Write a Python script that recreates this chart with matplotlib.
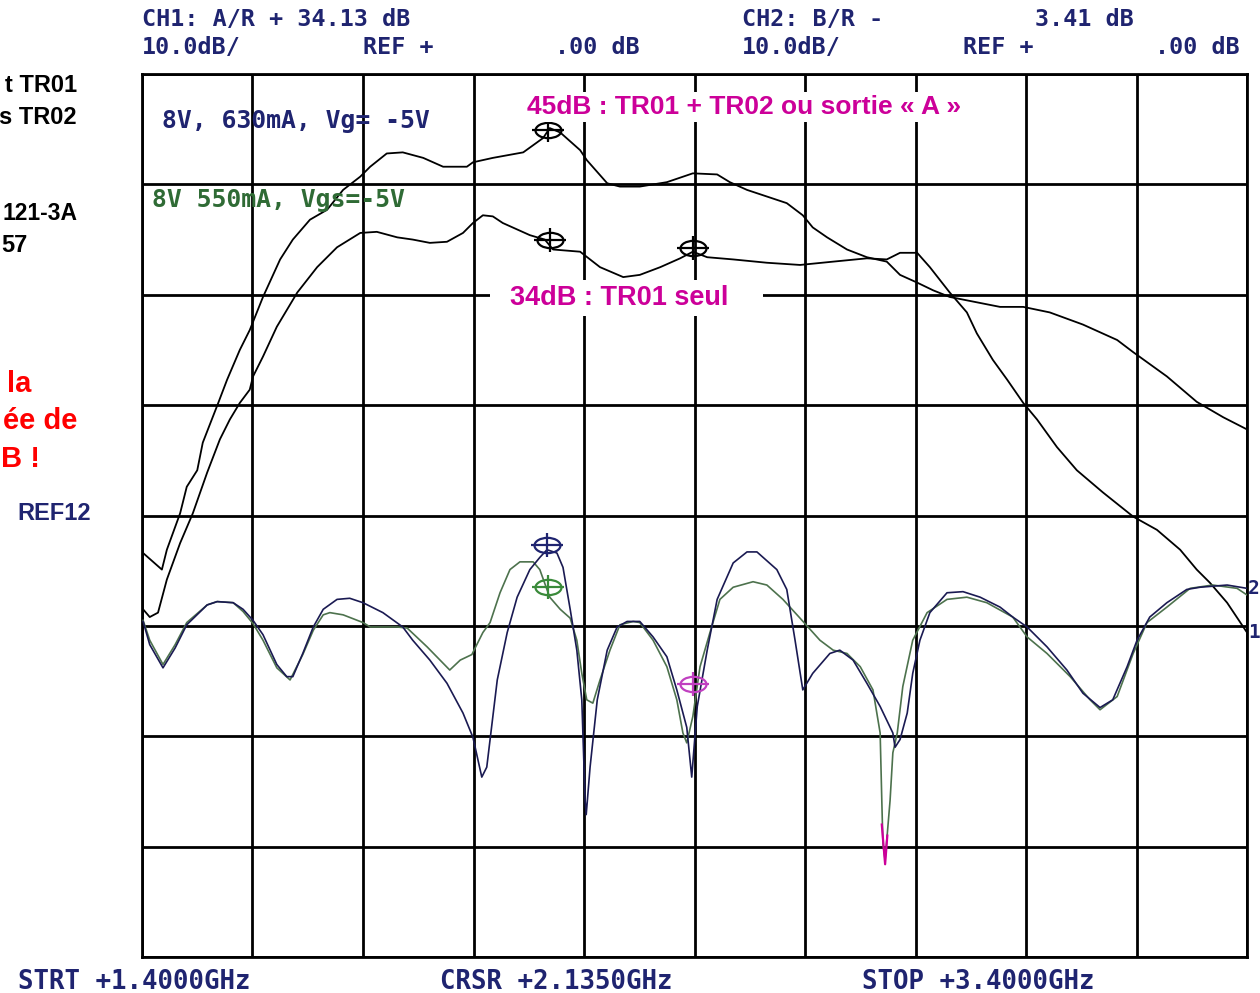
import numpy as np
import matplotlib
matplotlib.use("Agg")
import matplotlib.pyplot as plt
from matplotlib.markers import MarkerStyle
from matplotlib.transforms import Affine2D
from matplotlib.patches import Rectangle

W, H = 1260, 993

# ---- traces (frequency GHz, level dB) ----
# gain TR01 + TR02 (sortie A)
gain45_f = [1.402, 1.436, 1.445, 1.469, 1.481, 1.500, 1.510, 1.538, 1.554, 1.577,
            1.595, 1.619, 1.650, 1.673, 1.704, 1.735, 1.764, 1.795, 1.813, 1.843,
            1.872, 1.909, 1.945, 1.988, 1.999, 2.035, 2.090, 2.126, 2.138, 2.157,
            2.193, 2.205, 2.242, 2.265, 2.301, 2.350, 2.397, 2.441, 2.464, 2.495,
            2.531, 2.567, 2.596, 2.614, 2.640, 2.676, 2.712, 2.748, 2.772, 2.803,
            2.832, 2.862, 2.953, 2.995, 3.043, 3.103, 3.165, 3.194, 3.255, 3.309,
            3.357, 3.400]
gain45_db = [6.6, 5.1, 6.9, 10.2, 12.6, 14.1, 16.6, 20.2, 22.3, 25.0,
             26.8, 29.8, 33.2, 35.0, 36.8, 37.7, 39.5, 40.7, 41.6, 42.8,
             42.9, 42.4, 41.6, 41.6, 42.0, 42.4, 42.9, 44.2, 45.1, 44.7,
             43.1, 42.2, 40.1, 39.8, 39.8, 40.2, 41.0, 40.9, 40.2, 39.5,
             38.9, 38.3, 37.2, 36.1, 35.2, 34.1, 33.4, 33.0, 31.8, 31.1,
             30.4, 29.8, 28.9, 28.9, 28.4, 27.3, 25.9, 24.8, 22.6, 20.3,
             18.9, 17.8]

# gain TR01 seul
gain34_f = [1.402, 1.414, 1.429, 1.445, 1.469, 1.492, 1.518, 1.541, 1.559, 1.577,
            1.595, 1.601, 1.619, 1.644, 1.681, 1.717, 1.753, 1.795, 1.825, 1.862,
            1.890, 1.921, 1.952, 1.981, 1.999, 2.017, 2.035, 2.053, 2.102, 2.129,
            2.144, 2.193, 2.229, 2.271, 2.301, 2.338, 2.374, 2.397, 2.423, 2.470,
            2.531, 2.591, 2.651, 2.712, 2.748, 2.772, 2.803, 2.826, 2.862, 2.893,
            2.911, 2.940, 2.966, 2.995, 3.020, 3.056, 3.092, 3.139, 3.194, 3.237,
            3.279, 3.309, 3.333, 3.364, 3.400]
gain34_db = [1.5, 0.8, 1.2, 4.2, 7.5, 10.2, 13.9, 16.9, 18.7, 20.2,
             21.4, 22.6, 24.4, 27.1, 30.2, 32.5, 34.3, 35.6, 35.7, 35.2,
             35.0, 34.7, 34.8, 35.6, 36.5, 37.2, 37.1, 36.5, 35.4, 35.0,
             34.1, 33.9, 32.5, 31.6, 31.8, 32.5, 33.3, 33.9, 33.4, 33.2,
             32.9, 32.7, 33.0, 33.3, 33.2, 33.8, 33.8, 32.5, 30.2, 28.4,
             26.5, 24.1, 22.3, 20.2, 18.7, 16.2, 14.1, 12.1, 9.9, 8.7,
             6.9, 5.1, 3.9, 2.1, -0.6]

# return loss, 8V 630mA (navy)
rl630_f = [1.402, 1.414, 1.438, 1.460, 1.481, 1.518, 1.536, 1.565, 1.583, 1.601,
           1.619, 1.644, 1.662, 1.673, 1.691, 1.710, 1.728, 1.753, 1.776, 1.800,
           1.836, 1.872, 1.890, 1.921, 1.952, 1.981, 1.999, 2.015, 2.024, 2.043,
           2.061, 2.079, 2.102, 2.120, 2.133, 2.151, 2.162, 2.175, 2.187, 2.196,
           2.202, 2.204, 2.211, 2.224, 2.242, 2.260, 2.278, 2.301, 2.325, 2.350,
           2.368, 2.386, 2.395, 2.405, 2.423, 2.441, 2.470, 2.495, 2.513, 2.549,
           2.567, 2.582, 2.596, 2.614, 2.645, 2.663, 2.687, 2.712, 2.736, 2.759,
           2.763, 2.772, 2.785, 2.795, 2.808, 2.826, 2.857, 2.886, 2.917, 2.953,
           2.976, 3.002, 3.038, 3.074, 3.103, 3.134, 3.157, 3.183, 3.201, 3.224,
           3.255, 3.291, 3.315, 3.364, 3.400]
rl630_db = [0.4, -1.7, -3.8, -2.0, 0.1, 1.9, 2.2, 2.1, 1.5, 0.5,
            -0.8, -3.5, -4.6, -4.6, -2.5, -0.1, 1.5, 2.4, 2.5, 2.1,
            1.2, -0.1, -1.3, -3.1, -5.2, -7.9, -10.1, -13.7, -12.8, -4.9,
            -0.6, 2.6, 5.1, 6.2, 6.9, 6.6, 5.3, 1.5, -2.2, -6.7,
            -15.8, -17.1, -12.8, -6.7, -2.2, -0.1, 0.4, 0.4, -1.0, -2.8,
            -5.8, -9.2, -13.7, -7.3, -2.2, 2.4, 5.7, 6.7, 6.7, 5.1,
            3.3, -1.3, -5.8, -4.3, -2.5, -2.2, -3.1, -5.2, -7.3, -9.7,
            -11.0, -10.3, -7.9, -4.3, -1.3, 1.2, 3.0, 3.1, 2.6, 1.7,
            0.8, -0.1, -1.9, -4.0, -6.1, -7.4, -6.7, -3.7, -1.3, 0.8,
            2.1, 3.3, 3.5, 3.7, 3.4]

# return loss, 8V 550mA (green)
rl550_f = [1.402, 1.414, 1.438, 1.460, 1.481, 1.518, 1.536, 1.565, 1.583, 1.601,
           1.619, 1.644, 1.668, 1.691, 1.710, 1.728, 1.740, 1.764, 1.800, 1.813,
           1.862, 1.880, 1.916, 1.957, 1.976, 1.997, 2.017, 2.030, 2.048, 2.066,
           2.084, 2.108, 2.120, 2.138, 2.157, 2.175, 2.187, 2.196, 2.205, 2.216,
           2.229, 2.247, 2.265, 2.289, 2.301, 2.325, 2.350, 2.368, 2.379, 2.386,
           2.397, 2.410, 2.428, 2.446, 2.470, 2.506, 2.531, 2.560, 2.591, 2.627,
           2.651, 2.676, 2.700, 2.723, 2.736, 2.739, 2.741, 2.745, 2.754, 2.759,
           2.767, 2.777, 2.795, 2.821, 2.857, 2.893, 2.929, 2.976, 3.002, 3.038,
           3.080, 3.116, 3.134, 3.165, 3.194, 3.219, 3.255, 3.297, 3.338, 3.382,
           3.400]
rl550_db = [0.5, -1.3, -3.5, -1.7, 0.3, 1.9, 2.2, 2.1, 1.3, 0.2,
            -1.3, -3.8, -4.9, -2.6, -0.4, 1.0, 1.2, 1.0, 0.3, -0.1,
            -0.1, -0.2, -1.9, -4.0, -3.1, -2.6, -0.6, 0.3, 3.0, 5.1,
            5.8, 5.8, 5.1, 2.6, 1.5, 0.7, -1.3, -4.3, -6.7, -7.0,
            -4.9, -2.2, 0.1, 0.4, 0.3, -1.3, -3.7, -6.7, -9.7, -10.6,
            -8.2, -3.7, -0.6, 2.4, 3.5, 4.0, 3.7, 2.4, 0.7, -1.3,
            -2.2, -2.5, -3.7, -5.8, -9.7, -15.8, -19.7, -21.2, -15.8, -11.5,
            -9.7, -5.5, -1.3, 1.2, 2.4, 2.6, 2.1, 0.8, -1.0, -2.5,
            -4.6, -6.7, -7.6, -6.4, -2.5, 0.3, 1.7, 3.4, 3.7, 3.4,
            2.8]

# magenta tip at the bottom of the deep green notch
tip_f = [2.739, 2.745, 2.749]
tip_db = [-18.0, -21.6, -19.0]

# cursor markers
mk_gain_f = [2.135, 2.138, 2.397]
mk_gain_db = [44.9, 35.0, 34.2]
mk_630_f, mk_630_db = [2.133], [7.3]
mk_550_f, mk_550_db = [2.135], [3.5]
mk_ch2_f, mk_ch2_db = [2.397], [-5.3]

NAVY = '#1f2470'
GREEN = '#2f6b35'
TRACE_NAVY = '#1a1a52'
TRACE_GREEN = '#4d724d'
MAG = '#cc0099'

fig = plt.figure(figsize=(W / 100, H / 100), dpi=100)
fig.patch.set_facecolor('white')


def fx(px):
    return px / W


def fy(py):
    return 1 - py / H


ax = fig.add_axes([fx(142), fy(957), (1247 - 142) / W, (957 - 74) / H])
ax.set_xlim(1.4, 3.4)
ax.set_ylim(-30, 50)
ax.set_xticks(np.linspace(1.4, 3.4, 11))
ax.set_yticks(np.arange(-30, 51, 10))
ax.tick_params(length=0, labelbottom=False, labelleft=False)
ax.grid(True, color='black', lw=2.0)
ax.set_axisbelow(True)
for s in ax.spines.values():
    s.set_linewidth(2.0)

ax.plot(gain45_f, gain45_db, color='black', lw=1.3, zorder=3)
ax.plot(gain34_f, gain34_db, color='black', lw=1.3, zorder=3)
ax.plot(rl550_f, rl550_db, color=TRACE_GREEN, lw=1.2, zorder=3)
ax.plot(rl630_f, rl630_db, color=TRACE_NAVY, lw=1.2, zorder=4)
ax.plot(tip_f, tip_db, color=MAG, lw=1.6, zorder=5)

ell = MarkerStyle('o', fillstyle='none', transform=Affine2D().scale(1.7, 1.0))
crs = MarkerStyle('+', transform=Affine2D().scale(1.6, 1.25))


def cursor(fs, dbs, col):
    ax.plot(fs, dbs, ls='none', marker=ell, ms=11, mew=1.6, mec=col, zorder=6)
    ax.plot(fs, dbs, ls='none', marker=crs, ms=14, mew=1.6, mec=col, zorder=6)


cursor(mk_gain_f, mk_gain_db, 'black')
cursor(mk_630_f, mk_630_db, NAVY)
cursor(mk_550_f, mk_550_db, '#3a8a3a')
cursor(mk_ch2_f, mk_ch2_db, '#c040c0')

mono = dict(family='DejaVu Sans Mono', fontweight='bold', va='center')

# analyser header
fig.text(fx(142), fy(20), 'CH1: A/R + 34.13 dB', color=NAVY, fontsize=16.8, **mono)
fig.text(fx(142), fy(48), '10.0dB/', color=NAVY, fontsize=16.8, **mono)
fig.text(fx(363), fy(48), 'REF +', color=NAVY, fontsize=16.8, **mono)
fig.text(fx(555), fy(48), '.00 dB', color=NAVY, fontsize=16.8, **mono)
fig.text(fx(742), fy(20), 'CH2: B/R -', color=NAVY, fontsize=16.8, **mono)
fig.text(fx(1035), fy(20), '3.41 dB', color=NAVY, fontsize=16.8, **mono)
fig.text(fx(742), fy(48), '10.0dB/', color=NAVY, fontsize=16.8, **mono)
fig.text(fx(963), fy(48), 'REF +', color=NAVY, fontsize=16.8, **mono)
fig.text(fx(1155), fy(48), '.00 dB', color=NAVY, fontsize=16.8, **mono)

# footer
fig.text(fx(18), fy(982), 'STRT +1.4000GHz', color=NAVY, fontsize=18.5, **mono)
fig.text(fx(440), fy(982), 'CRSR +2.1350GHz', color=NAVY, fontsize=18.5, **mono)
fig.text(fx(862), fy(982), 'STOP +3.4000GHz', color=NAVY, fontsize=18.5, **mono)

# trace legends on screen
fig.text(fx(162), fy(121), '8V, 630mA, Vg= -5V', color=NAVY, fontsize=17.8, **mono)
fig.text(fx(152), fy(200), '8V 550mA, Vgs=-5V', color=GREEN, fontsize=17.8, **mono)
fig.text(fx(1248), fy(588), '2', color=NAVY, fontsize=14, **mono)
fig.text(fx(1248), fy(633), '1', color=NAVY, fontsize=14, **mono)

# slide annotations (left side of the slide)
sans = dict(family='Liberation Sans', fontweight='bold', va='center')
fig.text(fx(77), fy(85), 't TR01', color='black', fontsize=17, ha='right', **sans)
fig.text(fx(77), fy(117), 's TR02', color='black', fontsize=17, ha='right', **sans)
fig.text(fx(77), fy(213), '121-3A', color='black', fontsize=16.5, ha='right', **sans)
fig.text(fx(1), fy(245), '57', color='black', fontsize=17, ha='left', **sans)
fig.text(fx(31), fy(384), 'la', color='#ff0000', fontsize=21, ha='right', **sans)
fig.text(fx(77), fy(421), 'ée de', color='#ff0000', fontsize=21, ha='right', **sans)
fig.text(fx(1), fy(459), 'B !', color='#ff0000', fontsize=21, ha='left', **sans)
fig.text(fx(17), fy(513), 'REF12', color=NAVY, fontsize=17, ha='left', **sans)

# magenta labels on white boxes
fig.add_artist(Rectangle((fx(522), fy(122)), (966 - 522) / W, 30 / H,
                         transform=fig.transFigure, facecolor='white',
                         edgecolor='none', zorder=2.5))
fig.add_artist(Rectangle((fx(490), fy(316)), (763 - 490) / W, 36 / H,
                         transform=fig.transFigure, facecolor='white',
                         edgecolor='none', zorder=2.5))
fig.text(fx(527), fy(107), '45dB : TR01 + TR02 ou sortie « A »', color=MAG,
         fontsize=19, ha='left', zorder=3, **sans)
fig.text(fx(510), fy(298), '34dB : TR01 seul', color=MAG,
         fontsize=19.5, ha='left', zorder=3, **sans)

fig.savefig('out.png', dpi=100, facecolor='white')
